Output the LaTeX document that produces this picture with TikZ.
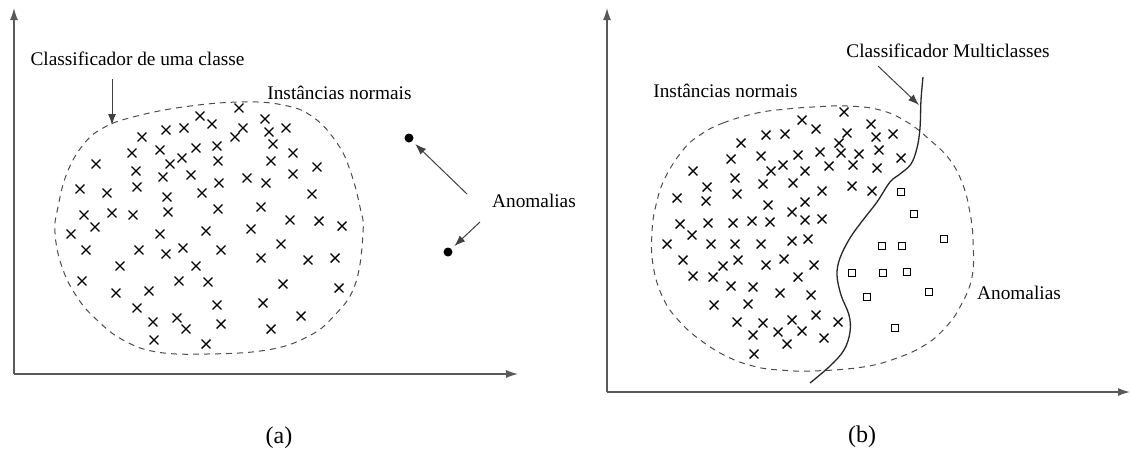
\documentclass[tikz,border=0pt]{standalone}
\usepackage{fontspec}
\setmainfont{Liberation Serif}
\usetikzlibrary{arrows.meta,shapes.misc}
\tikzset{
  xmark/.style={cross out, draw=black, line width=1.4pt, minimum size=7.5pt, inner sep=0pt},
  sqmark/.style={rectangle, draw=black, line width=1.2pt, minimum size=7.5pt, inner sep=0pt},
  anodot/.style={circle, fill=black, inner sep=0pt, minimum size=9pt},
  axisline/.style={draw=black!65, line width=1.3pt, -{Latex[length=12pt,width=8pt]}},
  pointer/.style={draw=black!75, line width=1pt, -{Latex[length=11pt,width=8pt]}},
  blob/.style={draw=black!70, line width=1pt, dash pattern=on 6pt off 5pt},
  boundary/.style={draw=black!85, line width=1.3pt},
  lbl/.style={font=\fontsize{19.3}{23}\selectfont, anchor=base, inner sep=0pt},
  caplbl/.style={font=\fontsize{24}{28}\selectfont, anchor=base, inner sep=0pt}
}
\begin{document}
\begin{tikzpicture}[x=1pt,y=-1pt]
\useasboundingbox (0,0) rectangle (1130,448);
% ---------- panel (a) ----------
\coordinate (oa) at (14,374);
\coordinate (ya) at (14,8);
\coordinate (xa) at (518,374);
\draw[axisline] (oa) -- (ya);
\draw[axisline] (oa) -- (xa);
\draw[blob] plot[smooth cycle, tension=0.7] coordinates {(103,128) (133,117) (183,107) (240,102) (283,105) (313,117) (337,143) (350,170) (360,207) (363,233) (355,285) (333,317) (307,337) (267,350) (207,354) (157,352) (123,340) (97,320) (77,297) (62,267) (55,233) (58,207) (67,173) (83,145)};
\foreach \x/\y [count=\i] in {239/108,200/116,212/124,265/119,243/128,235/137,269/132,286/128,273/144,293/153,271/161,317/167,293/174,312/194,166/130,184/128,142/137,132/153,160/150,196/148,217/146,96/164,136/171,170/164,182/158,218/161,163/177,191/175,219/183,247/178,266/183,80/189,107/193,137/187,167/197,202/193,218/209,261/207,84/215,112/213,133/215,168/212,290/220,319/221,342/226,71/234,95/227,160/234,206/231,251/229,281/244,86/250,139/250,166/254,183/248,221/250,261/258,308/260,335/258,120/266,196/266,82/281,179/281,208/282,283/284,339/288,116/293,149/291,137/308,217/305,263/303,301/316,153/322,177/318,186/329,221/324,271/329,154/340,206/344}
  \node[xmark] (pa\i) at (\x,\y) {};
\node[lbl] (lblocc) at (137.5,65) {Classificador de uma classe};
\coordinate (occfrom) at (112,79);
\coordinate (occto) at (112,125);
\draw[pointer] (occfrom) -- (occto);
\node[lbl] (lblnorma) at (339.5,99) {Instâncias normais};
\node[anodot] (dot1) at (409,138) {};
\node[anodot] (dot2) at (448,252) {};
\node[lbl] (lblanoma) at (534,207) {Anomalias};
\coordinate (an1) at (467,194);
\coordinate (an2) at (480,222);
\draw[pointer, shorten >=4pt] (an1) -- (dot1);
\draw[pointer, shorten >=4pt] (an2) -- (dot2);
\node[caplbl] (capa) at (279,443) {(a)};
% ---------- panel (b) ----------
\coordinate (ob) at (607,392);
\coordinate (yb) at (607,8);
\coordinate (xb) at (1130,392);
\draw[axisline] (ob) -- (yb);
\draw[axisline] (ob) -- (xb);
\draw[blob] plot[smooth cycle, tension=0.7] coordinates {(700,135) (723,123) (757,113) (787,109) (813,107) (847,106) (880,110) (907,122) (930,140) (950,160) (963,185) (970,213) (973,240) (972,277) (960,307) (945,328) (925,345) (897,358) (863,367) (813,371) (780,370) (757,367) (730,358) (703,342) (680,322) (663,298) (653,265) (652,232) (656,205) (665,178) (683,150)};
\draw[boundary] plot[smooth, tension=0.6] coordinates {(923,77) (921,100) (920,128) (917,148) (911,164) (900,174) (890,182) (877,202) (863,220) (850,238) (840,258) (837,275) (841,295) (849,315) (850,332) (844,350) (830,366) (810,383)};
\foreach \x/\y [count=\i] in {741/143,766/135,785/134,731/159,761/156,771/171,783/165,693/171,735/178,707/187,763/184,737/194,677/198,706/201,768/205,680/224,708/223,733/223,752/221,770/222,692/235,844/112,802/120,816/129,847/133,871/124,876/137,893/134,839/143,820/152,841/153,859/154,879/150,798/155,805/171,829/166,853/165,877/168,901/158,793/183,822/191,852/186,872/191,805/202,792/212,805/220,822/219,667/244,711/244,735/244,761/244,683/260,723/266,738/260,766/265,784/259,693/276,713/277,731/286,753/287,780/293,714/305,748/304,737/322,763/323,753/335,778/332,787/344,754/354,792/241,808/239,814/265,798/277,811/295,792/320,816/315,802/331,838/322,824/338}
  \node[xmark] (pb\i) at (\x,\y) {};
\foreach \x/\y [count=\i] in {901/192,914/214,944/239,882/246,902/246,852/273,883/273,907/272,929/292,867/297,895/328}
  \node[sqmark] (sq\i) at (\x,\y) {};
\node[lbl] (lblnormb) at (725.5,97) {Instâncias normais};
\node[lbl] (lblmc) at (948,57) {Classificador Multiclasses};
\coordinate (mcfrom) at (878,66);
\coordinate (mcto) at (919,105);
\draw[pointer] (mcfrom) -- (mcto);
\node[lbl] (lblanomb) at (1019,299) {Anomalias};
\node[caplbl] (capb) at (862,442) {(b)};
\end{tikzpicture}
\end{document}
